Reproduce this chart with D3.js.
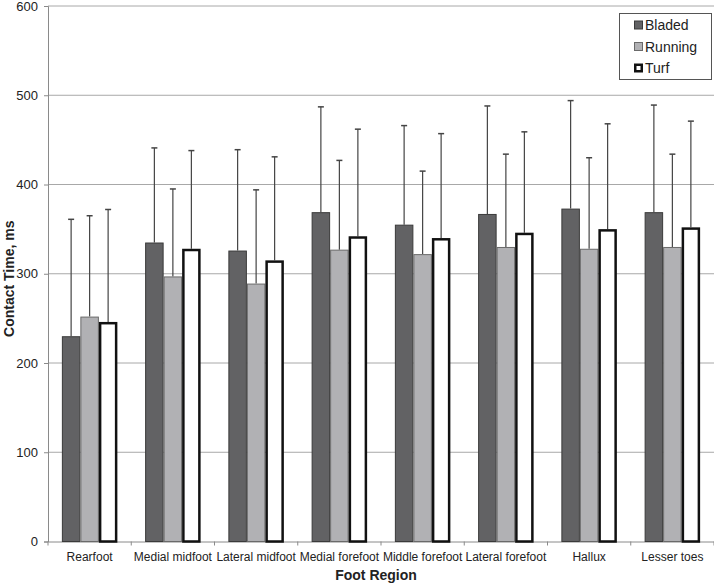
<!DOCTYPE html>
<html><head><meta charset="utf-8">
<script src="https://cdn.jsdelivr.net/npm/d3@7"></script>
<style>body{margin:0;background:#fff}svg{display:block;font-family:"Liberation Sans",Arial,sans-serif}</style>
</head><body><svg id="c" width="714" height="583"></svg>
<script>
const categories = ["Rearfoot","Medial midfoot","Lateral midfoot","Medial forefoot","Middle forefoot","Lateral forefoot","Hallux","Lesser toes"];
const seriesNames = ["Bladed","Running","Turf"];
const bladed = [230, 335, 326, 369, 355, 367, 373, 369];
const running = [252, 297, 289, 327, 322, 330, 328, 330];
const turf = [246, 328, 315, 342, 340, 346, 350, 352];
const bladedErrTop = [361, 441, 439, 487, 466, 488, 494, 489];
const runningErrTop = [365, 395, 394, 427, 415, 434, 430, 434];
const turfErrTop = [372, 438, 431, 462, 457, 459, 468, 471];
const yTicks = [0, 100, 200, 300, 400, 500, 600];

const values = [bladed, running, turf];
const errTops = [bladedErrTop, runningErrTop, turfErrTop];
const fills = ["#626264", "#b1b1b4", "#ffffff"];
const strokes = ["#3a3a3a", "#6a6a6a", "#111111"];
const strokeW = [1, 1, 2.5];

const svg = d3.select("#c");
const m = {l: 48, r: 714, t: 6, b: 541.5};
const x = d3.scaleBand().domain(categories).range([m.l, m.r]).paddingInner(0).paddingOuter(0);
const y = d3.scaleLinear().domain([0, 600]).range([m.b, m.t]);
const bw = x.bandwidth() / 4.5;
const off = x.bandwidth() * 0.75 / 4.5;

// gridlines
svg.append("g").selectAll("line").data(yTicks.filter(d => d > 0)).join("line")
  .attr("x1", m.l).attr("x2", m.r).attr("y1", d => y(d)).attr("y2", d => y(d))
  .attr("stroke", "#a8a8a8").attr("stroke-width", 1);

// y axis
const yAxis = svg.append("g").attr("transform", `translate(${m.l},0)`)
  .call(d3.axisLeft(y).tickValues(yTicks).tickSize(4).tickPadding(6));
yAxis.select(".domain").attr("stroke", "#8a8a8a");
yAxis.selectAll(".tick line").attr("stroke", "#8a8a8a");
yAxis.selectAll("text").attr("font-size", 13).attr("fill", "#222").attr("font-family", "Liberation Sans, Arial, sans-serif");

// x axis
const xAxis = svg.append("g").attr("transform", `translate(0,${m.b})`)
  .call(d3.axisBottom(x).tickSize(0).tickPadding(11));
xAxis.select(".domain").attr("stroke", "#8a8a8a");
xAxis.selectAll("text").attr("font-size", 12).attr("fill", "#222").attr("font-family", "Liberation Sans, Arial, sans-serif");
svg.append("g").selectAll("line").data(categories.concat(["_end"])).join("line")
  .attr("x1", (d, i) => m.l + i * x.bandwidth()).attr("x2", (d, i) => m.l + i * x.bandwidth())
  .attr("y1", m.b).attr("y2", m.b + 4).attr("stroke", "#8a8a8a");

// error bars
seriesNames.forEach((s, si) => {
  const g = svg.append("g");
  categories.forEach((c, ci) => {
    const cx = x(c) + off + si * bw + bw / 2;
    g.append("line").attr("x1", cx).attr("x2", cx)
      .attr("y1", y(values[si][ci])).attr("y2", y(errTops[si][ci]))
      .attr("stroke", "#444").attr("stroke-width", 1.2);
    g.append("line").attr("x1", cx - 3).attr("x2", cx + 3)
      .attr("y1", y(errTops[si][ci])).attr("y2", y(errTops[si][ci]))
      .attr("stroke", "#444").attr("stroke-width", 1.5);
  });
});

// bars
seriesNames.forEach((s, si) => {
  const inset = strokeW[si] / 2;
  svg.append("g").selectAll("rect").data(categories).join("rect")
    .attr("x", c => x(c) + off + si * bw + inset)
    .attr("width", bw - 2 * inset)
    .attr("y", (c, ci) => y(values[si][ci]) + inset)
    .attr("height", (c, ci) => y(0) - y(values[si][ci]) - inset)
    .attr("fill", fills[si]).attr("stroke", strokes[si]).attr("stroke-width", strokeW[si]);
});

// axis titles
svg.append("text").attr("x", (m.l + m.r) / 2 - 5).attr("y", 580).attr("text-anchor", "middle")
  .attr("font-size", 14).attr("font-weight", "bold").attr("fill", "#222").text("Foot Region");
svg.append("text").attr("transform", `translate(14,${(m.t + m.b) / 2 + 5}) rotate(-90)`).attr("text-anchor", "middle")
  .attr("font-size", 14).attr("font-weight", "bold").attr("fill", "#222").text("Contact Time, ms");

// legend
const lg = svg.append("g");
lg.append("rect").attr("x", 619.5).attr("y", 13.5).attr("width", 92).attr("height", 66)
  .attr("fill", "#fff").attr("stroke", "#555");
seriesNames.forEach((s, si) => {
  const ry = 25 + si * 21.5;
  const inset = strokeW[si] / 2;
  lg.append("rect").attr("x", 634 + inset).attr("y", ry - 4.5 + inset).attr("width", 9 - 2 * inset).attr("height", 9 - 2 * inset)
    .attr("fill", fills[si]).attr("stroke", strokes[si]).attr("stroke-width", strokeW[si]);
  lg.append("text").attr("x", 645).attr("y", ry + 5).attr("font-size", 14).attr("fill", "#222").text(s);
});
</script></body></html>
